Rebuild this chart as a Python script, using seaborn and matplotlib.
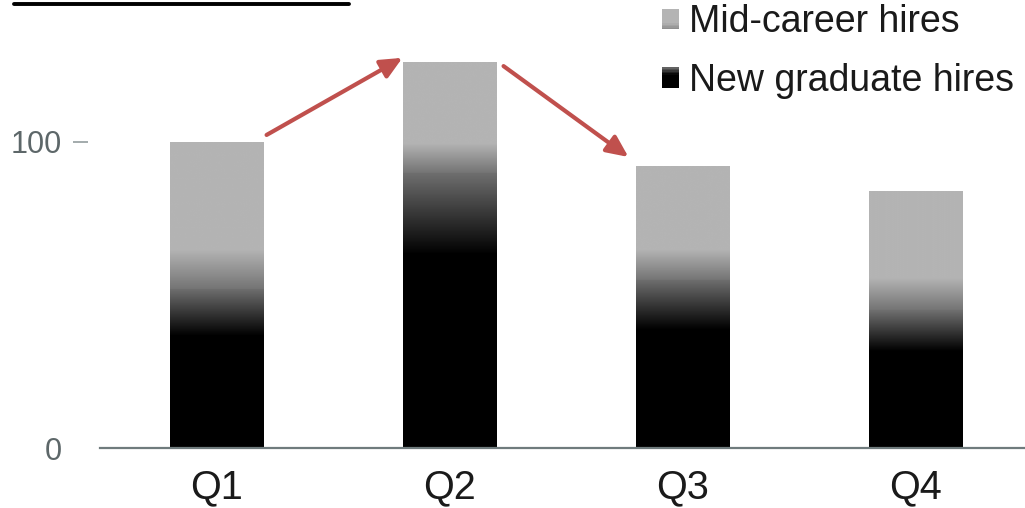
import numpy as np
import pandas as pd
import matplotlib
matplotlib.use("Agg")
import matplotlib.pyplot as plt
import seaborn as sns
from matplotlib.patches import Rectangle
from matplotlib.legend_handler import HandlerBase
from matplotlib.lines import Line2D

# ---- data ----
quarters = ["Q1", "Q2", "Q3", "Q4"]
new_grad_hires = [52, 90, 55, 45]
mid_career_hires = [48, 36, 37, 39]
series_labels = ["Mid-career hires", "New graduate hires"]
y_ticks = [0, 100]

totals = [a + b for a, b in zip(new_grad_hires, mid_career_hires)]
df = pd.DataFrame({"quarter": quarters, "new": new_grad_hires, "total": totals})

sns.set_theme(style="white")
plt.rcParams["font.family"] = ["Liberation Sans", "DejaVu Sans"]

fig = plt.figure(figsize=(10.25, 5.08), dpi=100)
ax = fig.add_axes([100 / 1025, 60 / 508, 925 / 1025, 448 / 508])

sns.barplot(data=df, x="quarter", y="total", color="#b4b4b4", width=0.4,
            saturation=1, errorbar=None, linewidth=0, edgecolor="none", ax=ax)
sns.barplot(data=df, x="quarter", y="new", color="#000000", width=0.4,
            saturation=1, errorbar=None, linewidth=0, edgecolor="none", ax=ax)

GRAY = 180


def mid_val(t, frac=0.27, lo=116):
    # t: fraction from bottom of segment
    s = np.clip(t / frac, 0, 1)
    return lo + (GRAY - lo) * s


def new_val(s, frac=0.30, hi=112):
    # s: fraction from top of segment
    r = np.clip(s / frac, 0, 1)
    return hi * (1 - r)


N = 300
tt = (np.arange(N) + 0.5) / N
mid_patches = ax.containers[0].patches
new_patches = ax.containers[1].patches
for i, p in enumerate(mid_patches):
    x0 = p.get_x()
    w = p.get_width()
    img = np.repeat(mid_val(tt)[:, None], 2, axis=1)
    im = ax.imshow(img, cmap="gray", vmin=0, vmax=255, origin="lower",
                   extent=[x0, x0 + w, new_grad_hires[i], totals[i]],
                   aspect="auto", interpolation="bilinear", zorder=p.get_zorder() + 0.1)
    im.set_clip_path(p)
    p.set_facecolor("none")
    p.set_edgecolor("none")
for i, p in enumerate(new_patches):
    x0 = p.get_x()
    w = p.get_width()
    img = np.repeat(new_val(1 - tt)[:, None], 2, axis=1)
    im = ax.imshow(img, cmap="gray", vmin=0, vmax=255, origin="lower",
                   extent=[x0, x0 + w, 0, new_grad_hires[i]],
                   aspect="auto", interpolation="bilinear", zorder=p.get_zorder() + 0.2)
    im.set_clip_path(p)
    p.set_facecolor("none")
    p.set_edgecolor("none")

ax.set_xlim(-0.5, 3.47)
ax.set_ylim(0, 146.4)
ax.set_xlabel("")
ax.set_ylabel("")
ax.set_yticks(y_ticks)
ax.set_yticklabels([str(v) for v in y_ticks])

for s in ["top", "right"]:
    ax.spines[s].set_visible(False)
ax.spines["left"].set_position(("outward", 8.6))
ax.spines["left"].set_visible(False)
ax.spines["bottom"].set_color("#6f7b7d")
ax.spines["bottom"].set_linewidth(1.6)
ax.spines["bottom"].set_zorder(5)

ax.tick_params(axis="y", left=True, length=10.8, width=1.1, color="#8a9496",
               direction="out", pad=8, labelsize=22, labelcolor="#5d6769")
ax.tick_params(axis="x", bottom=False, length=0, pad=15, labelsize=28.5,
               labelcolor="#1a1a1a")
ax.yaxis.get_major_ticks()[0].tick1line.set_visible(False)

# arrows
arrow_kw = dict(arrowstyle="-|>,head_length=0.65,head_width=0.3", color="#c0504d",
                lw=3, shrinkA=0, shrinkB=0, mutation_scale=20)
ax.annotate("", xy=(0.798, 127.5), xytext=(0.215, 102.3), arrowprops=arrow_kw,
            annotation_clip=False)
ax.annotate("", xy=(1.768, 95.1), xytext=(1.232, 124.8), arrowprops=arrow_kw,
            annotation_clip=False)

# top-left rule
fig.add_artist(Line2D([14 / 1025, 349 / 1025], [1 - 3.5 / 508, 1 - 3.5 / 508],
                      color="black", lw=2.8, transform=fig.transFigure))


# legend with gradient swatches
class GradHandle:
    def __init__(self, kind):
        self.kind = kind


class GradHandler(HandlerBase):
    def create_artists(self, legend, orig_handle, xdescent, ydescent, width,
                       height, fontsize, trans):
        n = 14
        arts = []
        for k in range(n):
            t = (k + 0.5) / n
            if orig_handle.kind == "mid":
                v = mid_val(t, frac=0.3, lo=138)
            else:
                v = new_val(1 - t, frac=0.35, hi=110)
            r = Rectangle((-xdescent, -ydescent + height * k / n), width,
                          height / n * 1.05, facecolor=str(float(v) / 255),
                          edgecolor="none", transform=trans)
            arts.append(r)
        return arts


handles = [GradHandle("mid"), GradHandle("new")]
fig.legend(handles, series_labels, handler_map={GradHandle: GradHandler()},
           loc="upper left", bbox_to_anchor=(662 / 1025, 1.0 - 4.5 / 508), frameon=False,
           fontsize=27, handlelength=0.45, handleheight=0.45,
           handletextpad=0.27, labelspacing=0.6, borderpad=0, borderaxespad=0,
           labelcolor="#1a1a1a")

fig.savefig("out.png", dpi=100)
